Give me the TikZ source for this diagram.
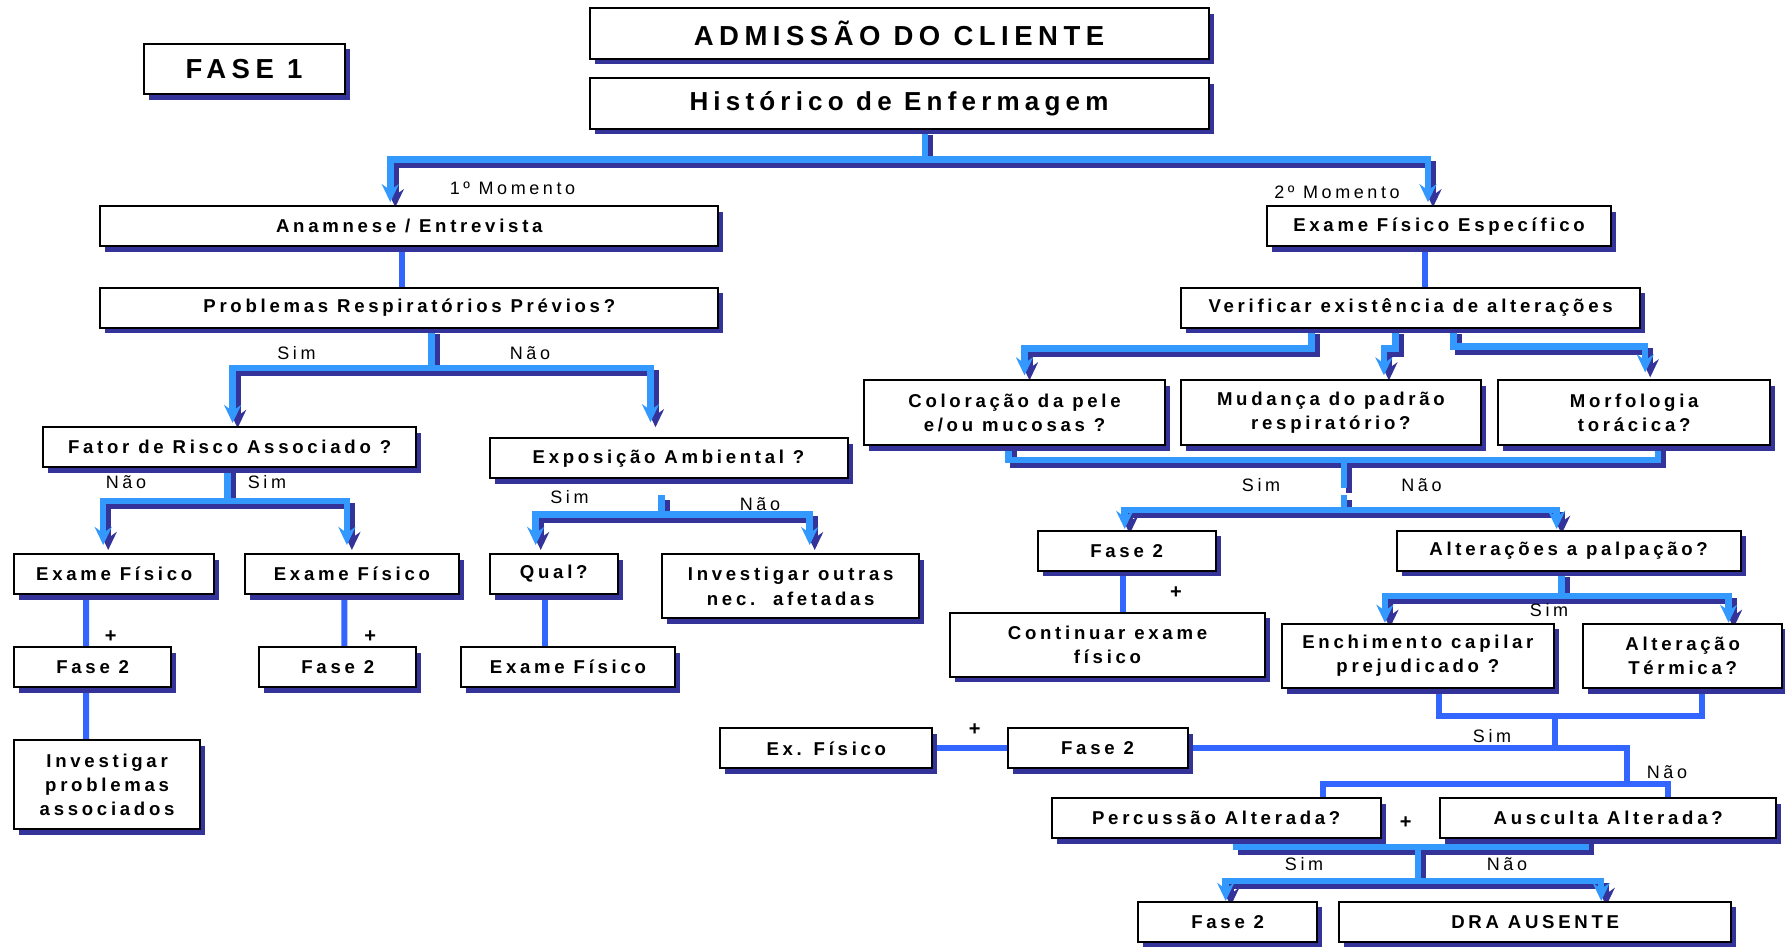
\documentclass[tikz,border=0pt]{standalone}
\usepackage{fontspec}
\setmainfont{Liberation Sans}[LetterSpace=20]
\usepackage{tikz}
\usetikzlibrary{arrows.meta,positioning,calc,shadows,backgrounds}
\definecolor{linkblue}{RGB}{51,153,255}
\definecolor{shadowblue}{RGB}{51,51,153}
\definecolor{plainblue}{RGB}{51,102,255}

\begin{document}
\begin{tikzpicture}[x=1pt, y=-1pt,
    box/.style={rectangle, draw=black, line width=2pt, fill=white, inner sep=0pt, align=center, minimum height=40pt, font=\bfseries\fontsize{18.6}{24.3}\selectfont, drop shadow={shadow xshift=5pt, shadow yshift=-5.5pt, fill=shadowblue, opacity=1}},
    bigbox/.style={box, minimum height=50.5pt},
    lbl/.style={inner sep=0pt, text height=12.9pt, text depth=0pt, font=\fontsize{18}{20}\selectfont},
    plus/.style={inner sep=0pt, font=\bfseries\fontsize{20}{20}\selectfont},
    link/.style={line width=6.5pt, draw=linkblue, preaction={draw=shadowblue, line width=6.5pt, transform canvas={shift={(5pt,-5pt)}}}},
    arrow/.style={link, -{Stealth[length=18pt, width=17pt, inset=6pt]}, shorten >=3pt},
    plain/.style={line width=6pt, draw=plainblue}
]
\useasboundingbox (0,0) rectangle (1785,947);

% ═══════════════════════════════════════════════════════════════
% Header
% ═══════════════════════════════════════════════════════════════
\node[bigbox, minimum width=201pt, font=\bfseries\fontsize{27.5}{30}\selectfont] (fase1) at (244,69) {FASE 1};
\node[bigbox, minimum width=619pt, font=\bfseries\fontsize{27.5}{30}\selectfont] (admissao) at (899,33.7) {ADMISSÃO DO CLIENTE};
\node[bigbox, minimum width=619pt, font=\bfseries\fontsize{26}{30}\selectfont] (historico) at (899,103.3) {Histórico de Enfermagem};

% ═══════════════════════════════════════════════════════════════
% 1º Momento: Anamnese
% ═══════════════════════════════════════════════════════════════
\node[box, minimum width=618pt] (anamnese) at (409.3,226.2) {Anamnese / Entrevista};
\node[box, minimum width=618pt] (previos) at (409.3,307.9) {Problemas Respiratórios Prévios?};
\node[box, minimum width=373.4pt] (fatorrisco) at (229.6,447) {Fator de Risco Associado ?};
\node[box, minimum width=358pt] (exposicao) at (668.5,458.2) {Exposição Ambiental ?};
\node[box, minimum width=200pt] (exame1) at (114.2,574) {Exame Físico};
\node[box, minimum width=213.8pt] (exame2) at (351.9,574) {Exame Físico};
\node[box, minimum width=128.3pt] (qual) at (553.7,574) {Qual?};
\node[box, minimum width=256.7pt, minimum height=64.3pt] (outras) at (790.7,586.2) {Investigar outras\\nec.\ \ afetadas};
\node[box, minimum width=157pt] (faseA) at (92.7,667.2) {Fase 2};
\node[box, minimum width=157pt] (faseB) at (337.8,667.2) {Fase 2};
\node[box, minimum width=214.4pt] (exame3) at (568,667.2) {Exame Físico};
\node[box, minimum width=185.8pt, minimum height=88.7pt] (associados) at (107.1,784.7) {Investigar\\problemas\\associados};

% ═══════════════════════════════════════════════════════════════
% 2º Momento: Exame Físico
% ═══════════════════════════════════════════════════════════════
\node[box, minimum width=344.6pt] (especifico) at (1439,226.2) {Exame Físico Específico};
\node[box, minimum width=459.5pt] (verificar) at (1410.6,307.7) {Verificar existência de alterações};
\node[box, minimum width=301pt, minimum height=64.7pt] (coloracao) at (1014.5,412.7) {Coloração da pele\\e/ou mucosas ?};
\node[box, minimum width=300pt, minimum height=64.7pt] (mudanca) at (1330.9,412.7) {Mudança do padrão\\respiratório?};
\node[box, minimum width=272.3pt, minimum height=64.7pt] (morfologia) at (1634.2,412.7) {Morfologia\\torácica?};
\node[box, minimum width=178pt] (faseC) at (1126.7,550.9) {Fase 2};
\node[box, minimum width=343.9pt] (palpacao) at (1568.6,550.9) {Alterações a palpação?};
\node[box, minimum width=315pt, minimum height=64pt] (continuar) at (1107.5,644.7) {Continuar exame\\físico};
\node[box, minimum width=271.4pt, minimum height=64.3pt] (enchimento) at (1417.9,655.9) {Enchimento capilar\\prejudicado ?};
\node[box, minimum width=198.8pt, minimum height=64.3pt] (termica) at (1682.6,655.9) {Alteração\\Térmica?};
\node[box, minimum width=211.8pt] (exfisico) at (826.3,748.3) {Ex. Físico};
\node[box, minimum width=180pt] (faseD) at (1097.5,748.3) {Fase 2};
\node[box, minimum width=328.8pt] (percussao) at (1216.2,818.2) {Percussão Alterada?};
\node[box, minimum width=336.3pt] (ausculta) at (1608.2,818.2) {Ausculta Alterada?};
\node[box, minimum width=178.7pt] (faseE) at (1227.7,921.9) {Fase 2};
\node[box, minimum width=392.4pt] (ausente) at (1535.2,921.9) {DRA AUSENTE};

% Labels
\node[lbl] (momento1) at (512.5,188) {1º Momento};
\node[lbl] (momento2) at (1337,192) {2º Momento};
\node[lbl] (simA) at (296.5,353) {Sim};
\node[lbl] (naoA) at (530,353) {Não};
\node[lbl] (naoB) at (126,482) {Não};
\node[lbl] (simB) at (267,482) {Sim};
\node[lbl] (simC) at (569.5,497) {Sim};
\node[lbl] (naoC) at (760,504) {Não};
\node[lbl] (simD) at (1261,485) {Sim};
\node[lbl] (naoD) at (1421.5,485) {Não};
\node[lbl] (simE) at (1549,610) {Sim};
\node[lbl] (simF) at (1492,736) {Sim};
\node[lbl] (naoF) at (1667,772) {Não};
\node[lbl] (simG) at (1304,864) {Sim};
\node[lbl] (naoG) at (1507,864) {Não};
\node[plus] (plusA) at (110.8,637) {+};
\node[plus] (plusB) at (370.3,637) {+};
\node[plus] (plusC) at (1176,593) {+};
\node[plus] (plusD) at (974.7,730) {+};
\node[plus] (plusE) at (1405.8,823) {+};

% ═══════════════════════════════════════════════════════════════
% Connectors
% ═══════════════════════════════════════════════════════════════
\begin{scope}[on background layer]
% Histórico -> two moments
\draw[link] ([xshift=26pt]historico.south) -- ++(0,30) coordinate (hub1);
\draw[arrow] (hub1) -| ([xshift=-19pt]anamnese.north);
\draw[arrow] (hub1) -| ([xshift=-11pt]especifico.north);

% Anamnese branch
\draw[plain] ([xshift=-7pt]anamnese.south) -- ([xshift=-7pt]previos.north);
\draw[link] ([xshift=22pt]previos.south) -- ++(0,39) coordinate (hub2);
\draw[arrow] (hub2) -| ([xshift=3pt]fatorrisco.north);
\draw[arrow, shorten >=15pt] (hub2) -| ([xshift=-18pt]exposicao.north);
\draw[link] ([xshift=-2pt]fatorrisco.south) -- ++(0,33) coordinate (hub3);
\draw[arrow, shorten >=8pt] (hub3) -| ([xshift=-11pt]exame1.north);
\draw[arrow, shorten >=8pt] (hub3) -| ([xshift=-5pt]exame2.north);
\draw[link] ([xshift=-7pt, yshift=-16pt]exposicao.south) -- ++(0,19.5) coordinate (hub4);
\draw[arrow, shorten >=8pt] (hub4) -| ([xshift=-18pt]qual.north);
\draw[arrow, shorten >=8pt] (hub4) -| ([xshift=19pt]outras.north);
\draw[plain] ([xshift=-28pt]exame1.south) -- ([xshift=-6.7pt]faseA.north);
\draw[plain] ([xshift=-7.5pt]exame2.south) -- ([xshift=6.6pt]faseB.north);
\draw[plain] ([xshift=-8.3pt]qual.south) -- ([xshift=-22.6pt]exame3.north);
\draw[plain] ([xshift=-6.7pt]faseA.south) -- ([xshift=-21pt]associados.north);

% Exame físico branch
\draw[plain] ([xshift=-14pt]especifico.south) -- ([xshift=14.4pt]verificar.north);
\draw[arrow, shorten >=4pt] ([xshift=-99pt]verificar.south) -- ++(0,20) -| ([xshift=10pt]coloracao.north);
\draw[arrow, shorten >=4pt] ([xshift=-15pt]verificar.south) -- ++(0,20) -| ([xshift=53pt]mudanca.north);
\draw[arrow, shorten >=7pt] ([xshift=43pt]verificar.south) -- ++(0,18) -| ([xshift=11pt]morfologia.north);
\draw[link] ([xshift=-6pt]coloracao.south) -- ++(0,14) -| ([xshift=24pt]morfologia.south);
\coordinate (hub5) at ($(mudanca.south)+(13,14)$);
\draw[link] (hub5) -- ++(0,28);
\draw[link] ($(hub5)+(0,35)$) -- ++(0,15) coordinate (hub6);
\draw[arrow, shorten >=1pt] (hub6) -| ([xshift=-2pt]faseC.north);
\draw[arrow, shorten >=1pt] (hub6) -| ([xshift=-12pt]palpacao.north);
\draw[plain] ([xshift=-4pt]faseC.south) -- ([xshift=15.2pt]continuar.north);
\draw[link] ([xshift=-7pt]palpacao.south) -- ++(0,24) coordinate (hub7);
\draw[arrow, shorten >=0pt] (hub7) -| ([xshift=-33pt]enchimento.north);
\draw[arrow, shorten >=0pt] (hub7) -| ([xshift=46pt]termica.north);
\draw[plain] ([xshift=21pt]enchimento.south) -- ++(0,27) -| ([xshift=19pt]termica.south);
\coordinate (hub8) at ($(enchimento.south)+(137,27)$);
\draw[plain] (hub8) -- (hub8 |- faseD.east);
\draw[plain] (exfisico.east) -- (faseD.west);
\draw[plain] (faseD.east) -| ($(ausculta.north)+(19,-13)$);
\draw[plain] ($(percussao.north)+(107,0)$) |- ($(ausculta.north)+(60,-13)$) -- ++(0,13);
\draw[link] ([xshift=20pt]percussao.south) -- ++(0,8) -| ([xshift=-22pt]ausculta.south);
\coordinate (hub9) at ($(percussao.south)+(202,8)$);
\draw[link] (hub9) -- ++(0,34) coordinate (hub10);
\draw[arrow, shorten >=0pt] (hub10) -| ([xshift=-2pt]faseE.north);
\draw[arrow, shorten >=0pt] (hub10) -| ([xshift=66pt]ausente.north);
\end{scope}

\end{tikzpicture}
\end{document}
